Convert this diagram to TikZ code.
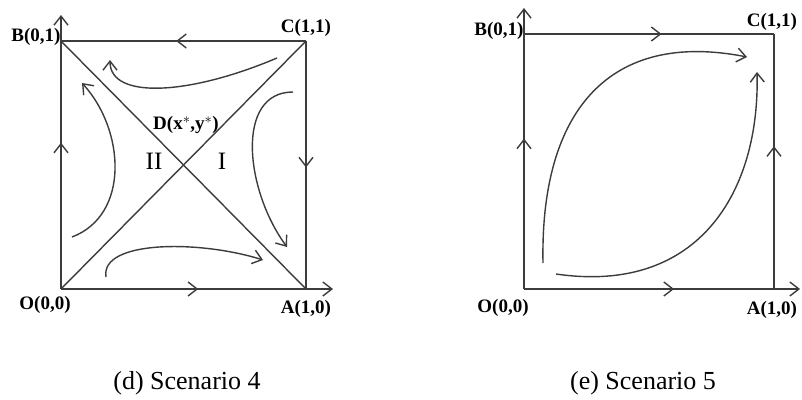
\documentclass[tikz,border=0pt]{standalone}
\usepackage{fontspec}
\setmainfont{Liberation Serif}
\usetikzlibrary{arrows.meta,decorations.markings}
\definecolor{ln}{HTML}{3C3C3C}
\tikzset{
  lbl/.style={font=\bfseries\fontsize{19}{19}\selectfont, inner sep=0pt},
  roman/.style={font=\fontsize{25}{25}\selectfont, inner sep=0pt},
  captxt/.style={font=\fontsize{26}{26}\selectfont, inner sep=0pt},
  barb/.style={-{Straight Barb[length=9pt,width=14pt]}},
  midarr/.style={postaction=decorate, decoration={markings,
     mark=at position #1 with {\arrow{Straight Barb[length=9pt,width=14pt]}}}},
  lines/.style={draw=ln, line width=1.4pt}
}
\begin{document}
\begin{tikzpicture}[x=1pt,y=-1pt]
\useasboundingbox[fill=white] (0,0) rectangle (802,399);
% ---------- panel (d)
\coordinate (O1) at (61,289);
\coordinate (A1) at (306,289);
\coordinate (B1) at (61,41);
\coordinate (C1) at (306,41);
\coordinate (Y1) at (61,15);
\coordinate (X1) at (333,289);
\draw[lines,barb] (O1) -- (Y1);
\draw[lines,barb] (O1) -- (X1);
\draw[lines,midarr=0.56] (O1) -- (A1);
\draw[lines,midarr=0.53] (C1) -- (B1);
\draw[lines,midarr=0.59] (O1) -- (B1);
\draw[lines,midarr=0.51] (C1) -- (A1);
\draw[lines] (O1) -- (C1);
\draw[lines] (B1) -- (A1);
\coordinate (ts) at (277,58); \coordinate (te) at (110,60);
\draw[lines,barb] (ts) .. controls (190,95) and (110,100) .. (te);
\coordinate (ls) at (72,237); \coordinate (le) at (82,83);
\draw[lines,barb] (ls) .. controls (130,215) and (125,130) .. (le);
\coordinate (rs) at (293,92); \coordinate (re) at (287,247);
\draw[lines,barb] (rs) .. controls (235,92) and (245,190) .. (re);
\coordinate (bs) at (106,277); \coordinate (be) at (263,260);
\draw[lines,barb] (bs) .. controls (100,240) and (200,240) .. (be);
\node[lbl] (lB1) at (36,37) {B(0,1)};
\node[lbl] (lC1) at (306,28) {C(1,1)};
\node[lbl] (lO1) at (45,305) {O(0,0)};
\node[lbl] (lA1) at (306,309) {A(1,0)};
\node[lbl] (lD) at (186,125) {D(x$^{*}$,y$^{*}$)};
\node[roman] (rII) at (154,161) {II};
\node[roman] (rI) at (222,161) {I};
\node[captxt] (capd) at (187,383) {(d) Scenario 4};
% ---------- panel (e)
\coordinate (O2) at (524,289);
\coordinate (A2) at (774,289);
\coordinate (B2) at (524,34);
\coordinate (C2) at (774,34);
\coordinate (Y2) at (524,8);
\coordinate (X2) at (800,289);
\draw[lines,barb] (O2) -- (Y2);
\draw[lines,barb] (O2) -- (X2);
\draw[lines,midarr=0.60] (O2) -- (A2);
\draw[lines,midarr=0.55] (B2) -- (C2);
\draw[lines,midarr=0.59] (O2) -- (B2);
\draw[lines,midarr=0.56] (A2) -- (C2);
\coordinate (us) at (543,263); \coordinate (ue) at (747,57);
\draw[lines,barb] (us) .. controls (540,110) and (610,30) .. (ue);
\coordinate (ws) at (556,274); \coordinate (we) at (757,72);
\draw[lines,barb] (ws) .. controls (700,295) and (760,190) .. (we);
\node[lbl] (lB2) at (499,31) {B(0,1)};
\node[lbl] (lC2) at (772,22) {C(1,1)};
\node[lbl] (lO2) at (503,308) {O(0,0)};
\node[lbl] (lA2) at (772,310) {A(1,0)};
\node[captxt] (cape) at (643,383) {(e) Scenario 5};
\end{tikzpicture}
\end{document}
